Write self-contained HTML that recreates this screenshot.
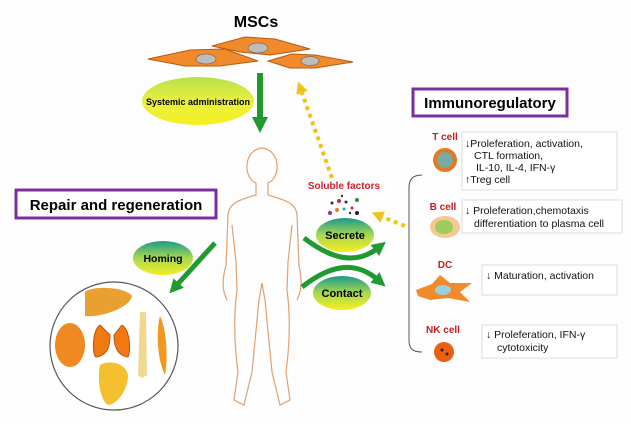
<!DOCTYPE html>
<html><head><meta charset="utf-8"><style>
html,body{margin:0;padding:0;background:#fff}
svg{display:block}
text{font-family:"Liberation Sans",sans-serif}
</style></head><body>
<svg width="631" height="424" viewBox="0 0 631 424" xmlns="http://www.w3.org/2000/svg">
<defs>
<linearGradient id="g1" x1="0" y1="0" x2="0" y2="1"><stop offset="0" stop-color="#b8e04a"/><stop offset="0.5" stop-color="#e8f040"/><stop offset="1" stop-color="#f4f020"/></linearGradient>
<linearGradient id="g2" x1="0" y1="0" x2="0" y2="1"><stop offset="0" stop-color="#1a9a8a"/><stop offset="0.5" stop-color="#a8d850"/><stop offset="1" stop-color="#f4ee20"/></linearGradient>
<marker id="ag" markerWidth="16" markerHeight="16" refX="4" refY="8" orient="auto" markerUnits="userSpaceOnUse"><path d="M0,0 L16,8 L0,16 Z" fill="#1f9a2e"/></marker>
<marker id="ags" markerWidth="14" markerHeight="14" refX="4" refY="7" orient="auto" markerUnits="userSpaceOnUse"><path d="M0,0 L14,7 L0,14 Z" fill="#1f9a2e"/></marker>
<marker id="ay" markerWidth="12" markerHeight="12" refX="3" refY="6" orient="auto" markerUnits="userSpaceOnUse"><path d="M0,0 L12,6 L0,12 Z" fill="#f2c21a"/></marker>
</defs>
<rect width="631" height="424" fill="#fdfdfd"/>
<text x="256" y="27" font-size="16" font-weight="bold" text-anchor="middle">MSCs</text>
<g fill="#f08a2a" stroke="#b85a10" stroke-width="1">
<path d="M148,59 L190,50 L225,49 L258,61 L220,66 L185,66 Z"/>
<path d="M212,46 L245,37 L275,39 L310,49 L270,55 L240,52 Z"/>
<path d="M268,61 L292,54 L315,55 L353,62 L315,68 L290,68 Z"/>
</g>
<g fill="#bdbdbd" stroke="#8a6a50" stroke-width="0.8">
<ellipse cx="206" cy="59" rx="10" ry="5"/><ellipse cx="258" cy="48" rx="10" ry="5"/><ellipse cx="310" cy="61" rx="9" ry="4.5"/>
</g>
<line x1="260" y1="73" x2="260" y2="121" stroke="#1f9a2e" stroke-width="6" marker-end="url(#ag)"/>
<ellipse cx="198" cy="101" rx="56" ry="24" fill="url(#g1)"/>
<text x="198" y="105" font-size="9.5" font-weight="bold" text-anchor="middle" textLength="104" lengthAdjust="spacingAndGlyphs">Systemic administration</text>
<g fill="none" stroke="#e0a070" stroke-width="1.2">
<path d="M256,183 C243,178 243,150 262,148 C281,150 281,178 268,183 L268,195 C285,200 296,203 297,215 L299,265 C302,280 302,290 297,300 M256,183 L256,195 C239,200 229,203 228,215 L226,265 C222,280 222,290 227,300"/>
<path d="M232,225 L236,262 L237,290 C233,320 235,350 238,372 L234,400 L244,405 L252,372 L259,300 L262,283 L265,300 L272,372 L280,405 L290,400 L286,372 C289,350 291,320 287,290 L288,262 L292,225"/>
</g>
<rect x="16" y="190" width="200" height="28" fill="#fff" stroke="#7a2ea0" stroke-width="3"/>
<text x="116" y="210" font-size="15" font-weight="bold" text-anchor="middle">Repair and regeneration</text>
<ellipse cx="163" cy="258" rx="30" ry="17" fill="url(#g2)"/>
<text x="163" y="262" font-size="10.5" font-weight="bold" text-anchor="middle">Homing</text>
<line x1="215" y1="243" x2="176" y2="286" stroke="#1f9a2e" stroke-width="5" marker-end="url(#ags)"/>
<circle cx="114" cy="346" r="64" fill="#fff" stroke="#555" stroke-width="1.2"/>
<path d="M85,292 C90,286 125,286 132,296 C130,308 100,318 85,316 Z" fill="#e8a030"/>
<ellipse cx="70" cy="345" rx="15" ry="22" fill="#f08a20"/>
<path d="M100,325 C92,330 92,355 96,357 C105,356 110,350 110,335 Z M114,335 C114,350 120,356 128,357 C131,350 130,330 122,325 Z" fill="#f07a10" stroke="#c05010"/>
<path d="M140,312 L146,312 L147,375 L142,378 L138,375 Z" fill="#f0d890"/>
<path d="M160,316 C167,330 168,360 165,375 C157,360 156,330 160,316 Z" fill="#f09820"/>
<path d="M100,365 C108,360 125,362 128,375 C128,392 115,405 108,405 C100,400 97,380 100,365 Z" fill="#f4c030"/>
<line x1="332" y1="178" x2="301" y2="90" stroke="#f2c21a" stroke-width="4" stroke-dasharray="4,4" marker-end="url(#ay)"/>
<line x1="405" y1="226" x2="380" y2="216" stroke="#f2c21a" stroke-width="4" stroke-dasharray="4,4" marker-end="url(#ay)"/>
<text x="344" y="189" font-size="10" font-weight="bold" fill="#d02030" text-anchor="middle">Soluble factors</text>
<g>
<circle cx="332" cy="203" r="1.5" fill="#333"/><circle cx="339" cy="201" r="2" fill="#c03030"/><circle cx="346" cy="202" r="1.5" fill="#333"/><circle cx="357" cy="200" r="2" fill="#2a8a3a"/>
<circle cx="330" cy="213" r="2" fill="#8a30a0"/><circle cx="337" cy="210" r="2" fill="#e08020"/><circle cx="344" cy="209" r="1.5" fill="#2aa0c0"/><circle cx="352" cy="208" r="1.5" fill="#c03030"/><circle cx="357" cy="213" r="2" fill="#222"/>
<circle cx="342" cy="196" r="1.2" fill="#333"/><circle cx="350" cy="213" r="1.2" fill="#333"/>
</g>
<path d="M304,238 C330,258 355,266 378,248" fill="none" stroke="#1f9a2e" stroke-width="5" marker-end="url(#ags)"/>
<path d="M302,287 C330,265 355,260 378,280" fill="none" stroke="#1f9a2e" stroke-width="5" marker-end="url(#ags)"/>
<ellipse cx="345" cy="235" rx="29" ry="17" fill="url(#g2)"/>
<text x="345" y="239" font-size="11" font-weight="bold" text-anchor="middle">Secrete</text>
<ellipse cx="342" cy="293" rx="29" ry="17" fill="url(#g2)"/>
<text x="342" y="297" font-size="11" font-weight="bold" text-anchor="middle">Contact</text>
<rect x="413" y="89" width="154" height="27" fill="#fff" stroke="#7a2ea0" stroke-width="3"/>
<text x="490" y="108" font-size="15" font-weight="bold" text-anchor="middle">Immunoregulatory</text>
<path d="M422,175 C412,175 409,180 409,188 L409,340 C409,348 412,352 422,352" fill="none" stroke="#555" stroke-width="1"/>
<g font-size="10" font-weight="bold" fill="#c02020" text-anchor="middle">
<text x="445" y="140">T cell</text><text x="443" y="210">B cell</text><text x="445" y="268">DC</text><text x="443" y="333">NK cell</text>
</g>
<circle cx="445" cy="160" r="12" fill="#e87820"/><circle cx="445" cy="160" r="8" fill="#7aaaa0"/>
<ellipse cx="445" cy="227" rx="15" ry="11" fill="#f4c890"/><ellipse cx="444" cy="227" rx="9" ry="7" fill="#9ccc60"/>
<path d="M416,290 L432,284 L440,275 L450,283 L472,283 L460,292 L470,302 L448,298 L430,300 L418,296 Z" fill="#f08a2a"/>
<ellipse cx="443" cy="290" rx="8" ry="5" fill="#9ad0e0"/>
<circle cx="444" cy="352" r="10" fill="#e86010"/><circle cx="442" cy="350" r="1.5" fill="#222"/><circle cx="447" cy="354" r="1.5" fill="#222"/>
<g fill="#fff" stroke="#ddd" stroke-width="1">
<rect x="462" y="132" width="155" height="58"/><rect x="462" y="200" width="160" height="33"/>
<rect x="482" y="265" width="135" height="30"/><rect x="482" y="325" width="135" height="33"/>
</g>
<g font-size="10.5" fill="#111">
<text x="465" y="147">↓Proleferation, activation,</text>
<text x="474" y="159">CTL formation,</text>
<text x="476" y="171">IL-10,  IL-4,  IFN-γ</text>
<text x="465" y="183">↑Treg cell</text>
<text x="465" y="214">↓ Proleferation,chemotaxis</text>
<text x="474" y="227">differentiation to plasma cell</text>
<text x="486" y="279">↓ Maturation, activation</text>
<text x="486" y="338">↓ Proleferation, IFN-γ</text>
<text x="497" y="351">cytotoxicity</text>
</g>
</svg>
</body></html>
